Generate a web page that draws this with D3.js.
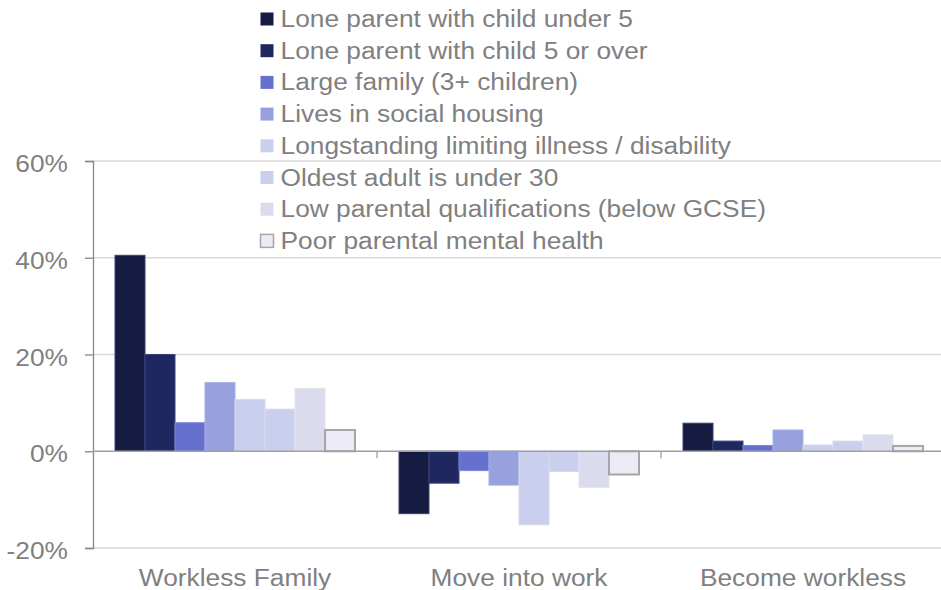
<!DOCTYPE html>
<html>
<head>
<meta charset="utf-8">
<script src="https://cdn.jsdelivr.net/npm/d3@7"></script>
<style>
  body { margin: 0; background: #fff; }
  text { font-family: "Liberation Sans", Arial, sans-serif; fill: #808080; }
</style>
</head>
<body>
<div class="chart"></div>
<script>
var w = 941,
  h = 590,
  stretch = 1.12;

// categories and series
var categories = ['Workless Family', 'Move into work', 'Become workless'];
var series = ['Lone parent with child under 5', 'Lone parent with child 5 or over', 'Large family (3+ children)',
  'Lives in social housing', 'Longstanding limiting illness / disability', 'Oldest adult is under 30',
  'Low parental qualifications (below GCSE)', 'Poor parental mental health'];
var colors = ['#161c41', '#1f2760', '#6671cf', '#98a1de', '#cbcfee', '#cbcfee', '#dadcee', '#ebeaf5'];
var strokes = ['#3a4070', '#3c4478', '#7c86d8', '#a9b0e4', '#d6d9f2', '#d6d9f2', '#e3e5f3', '#a6a6a6'];

// values in % per series, one per category
var loneUnder5 = [40.5, -12.9, 5.8];
var lone5Over = [20.0, -6.6, 2.1];
var largeFamily = [5.9, -4.0, 1.2];
var socialHousing = [14.2, -7.0, 4.4];
var illness = [10.7, -15.2, 1.3];
var under30 = [8.7, -4.2, 2.1];
var lowQual = [13.0, -7.5, 3.4];
var mentalHealth = [4.4, -4.8, 1.1];
var values = [loneUnder5, lone5Over, largeFamily, socialHousing, illness, under30, lowQual, mentalHealth];

var yTicks = [-20, 0, 20, 40, 60];

var svg = d3.select('.chart')
  .append('svg')
  .attr('width', w)
  .attr('height', h);

var y = d3.scaleLinear()
  .domain([-20, 60])
  .range([548, 161]);

var x0 = d3.scaleBand()
  .domain(categories)
  .range([93, 945]);

var x1 = d3.scaleBand()
  .domain(series)
  .range([22, x0.bandwidth() - 22]);

// gridlines
svg.append('g')
  .selectAll('line')
  .data(yTicks.filter(d => d !== 0))
  .enter()
  .append('line')
  .attr('x1', 93)
  .attr('x2', w)
  .attr('y1', d => y(d))
  .attr('y2', d => y(d))
  .attr('stroke', '#d9d9d9')
  .attr('stroke-width', 1.5);

// bars
var groups = svg.append('g')
  .selectAll('g')
  .data(series)
  .enter()
  .append('g');

groups.selectAll('rect')
  .data((s, i) => values[i].map((v, j) => ({ s: s, i: i, v: v, c: categories[j] })))
  .enter()
  .append('rect')
  .attr('x', d => x0(d.c) + x1(d.s))
  .attr('width', x1.bandwidth())
  .attr('y', d => y(Math.max(0, d.v)))
  .attr('height', d => Math.abs(y(d.v) - y(0)))
  .attr('fill', d => colors[d.i])
  .attr('stroke', d => strokes[d.i])
  .attr('stroke-width', d => d.i === 7 ? 2 : 1);

// y axis
var yAxis = svg.append('g')
  .attr('transform', 'translate(93,0)')
  .call(d3.axisLeft(y).tickValues(yTicks).tickSize(8).tickFormat(d => d + '%'));

yAxis.select('.domain').attr('stroke', '#878787').attr('stroke-width', 1.3);
yAxis.selectAll('.tick line').attr('stroke', '#878787').attr('stroke-width', 1.3);
yAxis.selectAll('.tick text')
  .attr('x', -25 / stretch)
  .attr('dy', null)
  .attr('y', 10.5)
  .attr('transform', 'scale(' + stretch + ',1)')
  .style('font-size', '23.5px')
  .attr('fill', '#808080');

// zero line with category boundary ticks
svg.append('line')
  .attr('x1', 93)
  .attr('x2', w)
  .attr('y1', y(0))
  .attr('y2', y(0))
  .attr('stroke', '#a0a0a0')
  .attr('stroke-width', 1.5);

svg.append('g')
  .selectAll('line')
  .data(categories.slice(1))
  .enter()
  .append('line')
  .attr('x1', d => x0(d))
  .attr('x2', d => x0(d))
  .attr('y1', y(0))
  .attr('y2', y(0) + 7)
  .attr('stroke', '#a0a0a0')
  .attr('stroke-width', 1.3);

// category labels
svg.append('g')
  .selectAll('text')
  .data(categories)
  .enter()
  .append('text')
  .attr('transform', d => 'translate(' + (x0(d) + x0.bandwidth() / 2) + ',586) scale(' + stretch + ',1)')
  .attr('text-anchor', 'middle')
  .style('font-size', '23.5px')
  .text(d => d);

// legend
var legend = svg.append('g')
  .selectAll('g')
  .data(series)
  .enter()
  .append('g')
  .attr('transform', (d, i) => 'translate(0,' + (27 + i * 31.7) + ')');

legend.append('rect')
  .attr('x', 260.5)
  .attr('y', -14.5)
  .attr('width', 13)
  .attr('height', 13)
  .attr('fill', (d, i) => colors[i])
  .attr('stroke', (d, i) => i === 7 ? '#a6a6a6' : 'none')
  .attr('stroke-width', 1.5);

legend.append('text')
  .attr('transform', 'translate(280.5,0) scale(' + stretch + ',1)')
  .style('font-size', '23.5px')
  .text(d => d);
</script>
</body>
</html>
